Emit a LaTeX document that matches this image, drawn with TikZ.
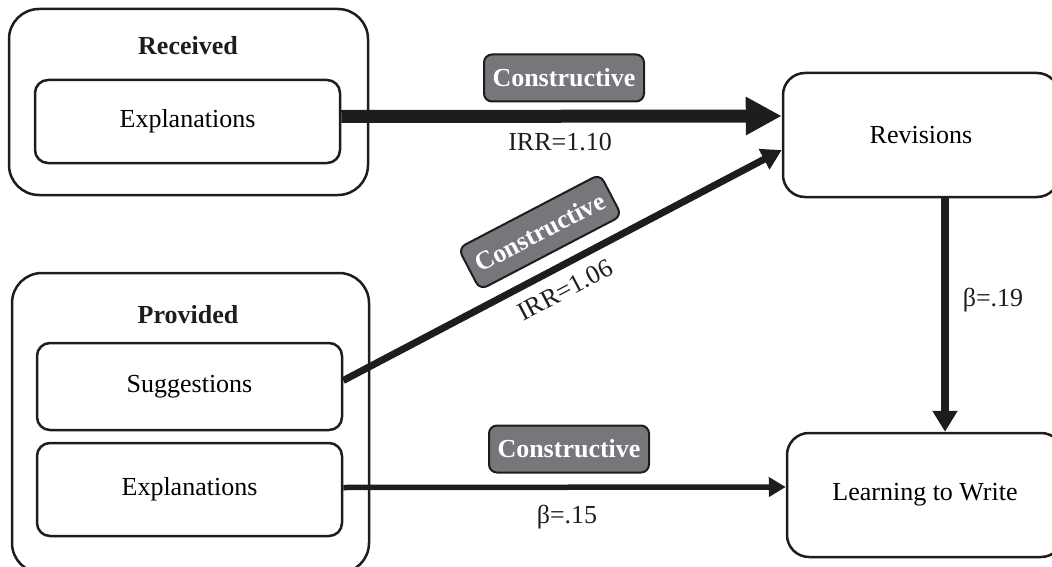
\documentclass[tikz,border=0pt]{standalone}
\usepackage{fontspec}
\setmainfont{Liberation Serif}
\usetikzlibrary{arrows.meta}
\definecolor{tagGray}{RGB}{118,119,123}
\definecolor{ink}{RGB}{30,28,28}
\tikzset{
  grp/.style={draw=ink, line width=2.5pt, rounded corners=30pt, inner sep=0pt},
  item/.style={draw=ink, line width=2.5pt, rounded corners=13pt, inner sep=0pt, minimum width=305pt, font=\fontsize{26}{30}\selectfont},
  outbox/.style={draw=ink, line width=2.5pt, rounded corners=22pt, inner sep=0pt, minimum width=276pt, minimum height=124pt, font=\fontsize{26}{30}\selectfont},
  title/.style={font=\fontsize{26}{30}\selectfont\bfseries, text=ink, inner sep=0pt},
  tagbox/.style={draw=ink, fill=tagGray, line width=2pt, rounded corners=8pt, text=white, font=\fontsize{26}{30}\selectfont\bfseries, minimum width=160pt, minimum height=47pt, inner sep=0pt},
  lab/.style={font=\fontsize{26}{30}\selectfont, text=ink, inner sep=0pt},
  conn/.style={draw=ink}
}
\begin{document}
\begin{tikzpicture}[x=1pt,y=-1pt]
\useasboundingbox (0,0) rectangle (1052,567);
% groups
\node[grp, minimum width=359pt, minimum height=186pt] (recv) at (188.5,102) {};
\node[title] (recvT) at (188,46) {Received};
\node[item, minimum height=83pt] (recExp) at (187.5,121.5) {Explanations};

\node[grp, minimum width=357pt, minimum height=300pt] (prov) at (190.5,423) {};
\node[title] (provT) at (188,315) {Provided};
\node[item, minimum height=87pt] (sug) at (189.5,386.5) {Suggestions};
\node[item, minimum height=93pt] (provExp) at (189.5,489.5) {Explanations};

% outcomes
\node[outbox] (rev) at (921,135) {Revisions};
\node[outbox] (learn) at (925,495) {Learning to Write};

% connectors
\draw[conn, line width=13pt, -{Triangle[length=36pt,width=36pt]}] ([yshift=5pt]recExp.east) -- ([yshift=19pt]rev.west);
\draw[conn, line width=7pt, -{Triangle[length=20pt,width=22pt]}] ([yshift=6pt]sug.east) -- ([yshift=-15pt]rev.west);
\draw[conn, line width=7.5pt, -{Triangle[length=21pt,width=24pt]}] ([xshift=24pt]rev.south) -- ([xshift=20pt]learn.north);
\draw[conn, line width=5.5pt, -{Triangle[length=17pt,width=19pt]}] ([yshift=2pt]provExp.east) -- ([yshift=8pt]learn.west);

% labels
\node[tagbox] (tag1) at (564,78) {Constructive};
\node[lab] (irr1) at (560,142) {IRR=1.10};
\node[tagbox, rotate=27.6] (tag2) at (540,232) {Constructive};
\node[lab, rotate=27.6] (irr2) at (565,290) {IRR=1.06};
\node[tagbox] (tag3) at (569,449) {Constructive};
\node[lab] (b15) at (567,517) {β=.15};
\node[lab] (b19) at (993,300) {β=.19};
\end{tikzpicture}
\end{document}
